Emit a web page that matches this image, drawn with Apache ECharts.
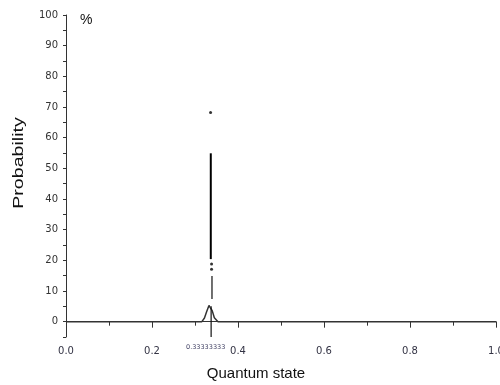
<!DOCTYPE html>
<html><head><meta charset="utf-8">
<script src="https://cdn.jsdelivr.net/npm/echarts@6/dist/echarts.min.js"></script>
<style>html,body{margin:0;padding:0;background:#fff}#c{width:500px;height:385px}</style>
</head><body><div id="c"></div>
<script>
// Baseline distribution (x = quantum state, y = probability %)
var baseX = [0, 0.316, 0.322, 0.327, 0.3325, 0.3355, 0.340, 0.345, 0.3535, 1];
var baseY = [0, 0, 1.2, 3.2, 5.3, 4.6, 3.6, 1.3, 0, 0];
// Vertical peak segments
var peakMainX = [0.3367, 0.3367];
var peakMainY = [20.4, 54.9];
var peakLowX = [0.3395, 0.3395];
var peakLowY = [7.4, 14.9];
var stemX = [0.3375, 0.3375];
var stemY = [-5, 5];
// Isolated points
var dotX = [0.3362, 0.3385, 0.3385];
var dotY = [68.2, 18.8, 17.1];
var xTicks = [0, 0.2, 0.4, 0.6, 0.8, 1.0];
var yTicks = [0, 10, 20, 30, 40, 50, 60, 70, 80, 90, 100];
var peakLabel = '0.33333333';

function zip(a, b) { return a.map(function (v, i) { return [v, b[i]]; }); }

var chart = echarts.init(document.getElementById('c'), null, {renderer: 'canvas'});
var font = 'Liberation Sans, Arial, sans-serif';
var tickFont = 'DejaVu Sans, sans-serif';
chart.setOption({
  animation: false,
  grid: {left: 66, right: 4, top: 15, bottom: 48, outerBoundsMode: 'none', containLabel: false},
  xAxis: {
    type: 'value', min: 0, max: 1, interval: 0.2,
    axisLine: {show: true, lineStyle: {color: '#333', width: 1}},
    axisTick: {show: true, length: 6, lineStyle: {color: '#333'}},
    minorTick: {show: true, splitNumber: 2, length: 4, lineStyle: {color: '#333'}},
    splitLine: {show: false},
    axisLabel: {fontFamily: tickFont, fontSize: 10, color: '#334', margin: 9,
      formatter: function (v) { return xTicks.some(function (t) { return Math.abs(t - v) < 1e-9; }) ? v.toFixed(1) : ''; }}
  },
  yAxis: {
    type: 'value', min: -5, max: 100, interval: 5,
    axisLine: {show: true, lineStyle: {color: '#333', width: 1}},
    axisTick: {show: true, length: 3, lineStyle: {color: '#333'}},
    splitLine: {show: false},
    axisLabel: {fontFamily: tickFont, fontSize: 10, color: '#333', margin: 8,
      formatter: function (v) { return yTicks.indexOf(Math.round(v)) >= 0 && Math.abs(v - Math.round(v)) < 1e-9 ? String(Math.round(v)) : ''; }}
  },
  graphic: [
    {type: 'text', left: 80, top: 13, style: {text: '%', fontFamily: font, fontSize: 14, fill: '#111'}},
    {type: 'text', x: 19, y: 163, rotation: Math.PI / 2, scaleX: 1.4,
      style: {text: 'Probability', fontFamily: font, fontSize: 14, fill: '#111', align: 'center', verticalAlign: 'middle'}},
    {type: 'text', x: 256, y: 374,
      style: {text: 'Quantum state', fontFamily: font, fontSize: 15, fill: '#111', align: 'center', verticalAlign: 'middle'}},
    {type: 'text', left: 186, top: 344, style: {text: peakLabel, fontFamily: tickFont, fontSize: 6.5, fill: '#446'}}
  ],
  series: [
    {type: 'line', data: zip(baseX, baseY), symbol: 'none', lineStyle: {color: '#333', width: 1.5}},
    {type: 'line', data: zip(peakMainX, peakMainY), symbol: 'none', lineStyle: {color: '#000', width: 2}},
    {type: 'line', data: zip(peakLowX, peakLowY), symbol: 'none', lineStyle: {color: '#111', width: 1.2}},
    {type: 'line', data: zip(stemX, stemY), symbol: 'none', lineStyle: {color: '#111', width: 1.2}},
    {type: 'scatter', data: zip(dotX, dotY), symbol: 'circle', symbolSize: 3, itemStyle: {color: '#000'}}
  ]
});
</script></body></html>
